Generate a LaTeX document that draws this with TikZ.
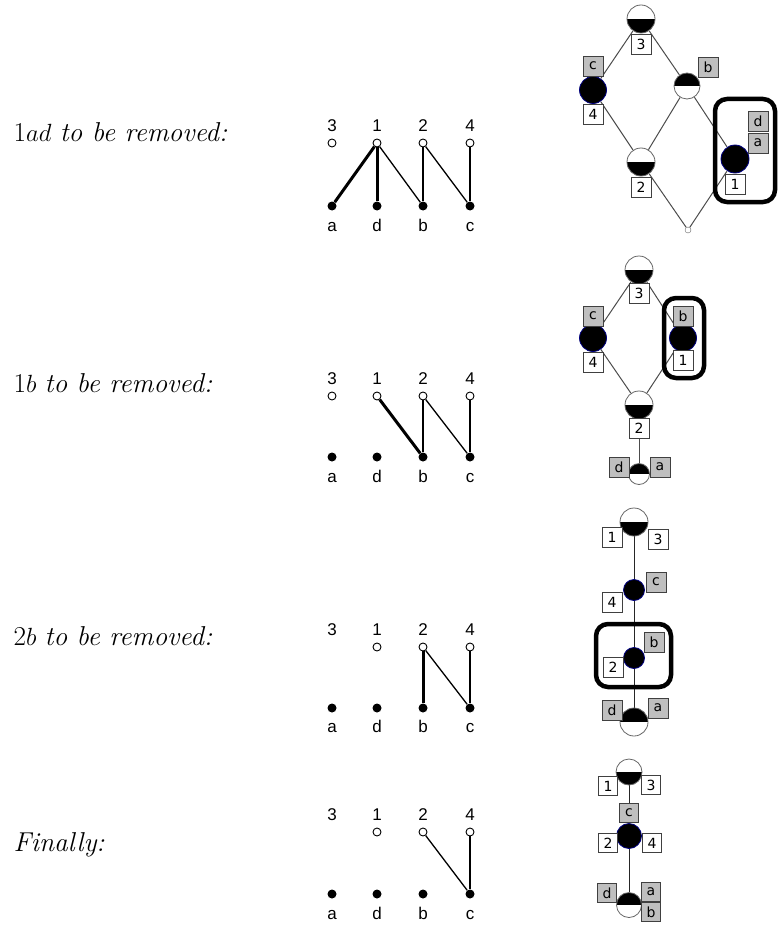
\documentclass[tikz,border=0pt]{standalone}
\usepackage{fontspec}
\newfontfamily\graphfont{Liberation Sans}
\newfontfamily\latfont{DejaVu Sans}
\usetikzlibrary{backgrounds}
\tikzset{
  free/.style={circle,draw,fill=white,inner sep=0pt,minimum size=8pt,line width=0.9pt},
  bound/.style={circle,fill=black,inner sep=0pt,minimum size=9pt},
  lab/.style={anchor=base,font=\graphfont\fontsize{17}{17}\selectfont},
  thinedge/.style={line width=1.3pt},
  thickedge/.style={line width=3pt},
  upper/.style={circle,draw=black!60,fill=white,line width=0.8pt,inner sep=0pt,
    path picture={\fill[black] (path picture bounding box.north west) rectangle (path picture bounding box.east);}},
  lower/.style={circle,draw=black!60,fill=white,line width=0.8pt,inner sep=0pt,
    path picture={\fill[black] (path picture bounding box.west) rectangle (path picture bounding box.south east);}},
  full/.style={circle,fill=black,draw=blue!50!black,line width=0.8pt,inner sep=0pt},
  obj/.style={draw=black!75,fill=white,line width=0.8pt,minimum size=20pt,inner sep=0pt,
    font=\latfont\fontsize{14}{14}\selectfont},
  attr/.style={obj,fill=black!25},
  link/.style={draw=black!70,line width=1pt},
  pick/.style={line width=4.5pt,rounded corners=12pt},
  caption/.style={anchor=base west,font=\fontsize{27.3}{32}\selectfont}
}
\begin{document}
\begin{tikzpicture}[x=1pt,y=-1pt]
  \useasboundingbox (0,0) rectangle (780,931);
  % captions
  \node[caption] (tA) at (10,142) {1$ad$ \textit{to be removed:}};
  \node[caption] (tB) at (10,392) {1$b$ \textit{to be removed:}};
  \node[caption] (tC) at (10,645) {2$b$ \textit{to be removed:}};
  \node[caption] (tD) at (10,851) {\textit{Finally:}};

  % bipartite graphs
  \draw
    (332,143) node[free] (A3){} (377,143) node[free] (A1){}
    (423,143) node[free] (A2){} (470,143) node[free] (A4){}
    (332,206) node[bound] (Aa){} (377,206) node[bound] (Ad){}
    (423,206) node[bound] (Ab){} (470,206) node[bound] (Ac){};
  \draw
    (332,396) node[free] (B3){} (377,396) node[free] (B1){}
    (423,396) node[free] (B2){} (470,396) node[free] (B4){}
    (332,457) node[bound] (Ba){} (377,457) node[bound] (Bd){}
    (423,457) node[bound] (Bb){} (470,457) node[bound] (Bc){};
  \draw
    (377,647) node[free] (C1){}
    (423,647) node[free] (C2){} (470,647) node[free] (C4){}
    (332,708) node[bound] (Ca){} (377,708) node[bound] (Cd){}
    (423,708) node[bound] (Cb){} (470,708) node[bound] (Cc){};
  \draw
    (377,832) node[free] (D1){}
    (423,832) node[free] (D2){} (470,832) node[free] (D4){}
    (332,894) node[bound] (Da){} (377,894) node[bound] (Dd){}
    (423,894) node[bound] (Db){} (470,894) node[bound] (Dc){};
  \begin{scope}[lab]
    \node[lab] (A3l) at (332,131.5) {3}; \node[lab] (A1l) at (377,131.5) {1};
    \node[lab] (A2l) at (423,131.5) {2}; \node[lab] (A4l) at (470,131.5) {4};
    \node[lab] (Aal) at (332,231.5) {a}; \node[lab] (Adl) at (377,231.5) {d};
    \node[lab] (Abl) at (423,231.5) {b}; \node[lab] (Acl) at (470,231.5) {c};
    \node[lab] (B3l) at (332,384) {3}; \node[lab] (B1l) at (377,384) {1};
    \node[lab] (B2l) at (423,384) {2}; \node[lab] (B4l) at (470,384) {4};
    \node[lab] (Bal) at (332,482.5) {a}; \node[lab] (Bdl) at (377,482.5) {d};
    \node[lab] (Bbl) at (423,482.5) {b}; \node[lab] (Bcl) at (470,482.5) {c};
    \node[lab] (C3l) at (332,635.5) {3}; \node[lab] (C1l) at (377,635.5) {1};
    \node[lab] (C2l) at (423,635.5) {2}; \node[lab] (C4l) at (470,635.5) {4};
    \node[lab] (Cal) at (332,732) {a}; \node[lab] (Cdl) at (377,732) {d};
    \node[lab] (Cbl) at (423,732) {b}; \node[lab] (Ccl) at (470,732) {c};
    \node[lab] (D3l) at (332,820) {3}; \node[lab] (D1l) at (377,820) {1};
    \node[lab] (D2l) at (423,820) {2}; \node[lab] (D4l) at (470,820) {4};
    \node[lab] (Dal) at (332,919) {a}; \node[lab] (Ddl) at (377,919) {d};
    \node[lab] (Dbl) at (423,919) {b}; \node[lab] (Dcl) at (470,919) {c};
  \end{scope}
  \begin{scope}[-]
    \draw[thickedge] (A1) to (Aa);
    \draw[thickedge] (A1) to (Ad);
    \draw[thinedge] (A1) to (Ab);
    \draw[thinedge] (A2) to (Ab);
    \draw[thinedge] (A2) to (Ac);
    \draw[thinedge] (A4) to (Ac);
    \draw[thickedge] (B1) to (Bb);
    \draw[thinedge] (B2) to (Bb);
    \draw[thinedge] (B2) to (Bc);
    \draw[thinedge] (B4) to (Bc);
    \draw[thickedge] (C2) to (Cb);
    \draw[thinedge] (C2) to (Cc);
    \draw[thinedge] (C4) to (Cc);
    \draw[thinedge] (D2) to (Dc);
    \draw[thinedge] (D4) to (Dc);
  \end{scope}

  % lattice 1
  \draw
    (641,19) node[lower,minimum size=28pt] (P3){}
    (593,90) node[full,minimum size=27pt] (P4){}
    (687,86) node[upper,minimum size=26pt] (Pb){}
    (641,162) node[lower,minimum size=28pt] (P2){}
    (735,159) node[full,minimum size=28pt] (P1){}
    (688,230) node[circle,draw=black!60,fill=white,inner sep=0pt,minimum size=6pt] (P0){};
  \node[obj] (P3l) at (641,44) {3};
  \node[attr] (Pcl) at (593,66) {c};
  \node[obj] (P4l) at (593,114) {4};
  \node[attr] (Pbl) at (708,67) {b};
  \node[obj] (P2l) at (641,187) {2};
  \node[attr] (Pdl) at (758,121) {d};
  \node[attr] (Pal) at (758,143) {a};
  \node[obj] (P1l) at (735,184) {1};
  \draw[pick] (715,99) rectangle (775,202);
  \begin{scope}[on background layer]
    \draw[link] (P3) to (P4);
    \draw[link] (P3) to (Pb);
    \draw[link] (P4) to (P2);
    \draw[link] (Pb) to (P2);
    \draw[link] (Pb) to (P1);
    \draw[link] (P2) to (P0);
    \draw[link] (P1) to (P0);
  \end{scope}

  % lattice 2
  \draw
    (639,270) node[lower,minimum size=28pt] (Q3){}
    (593,338) node[full,minimum size=27pt] (Q4){}
    (683,338) node[full,minimum size=27pt] (Q1){}
    (639,405) node[lower,minimum size=28pt] (Q2){}
    (639,474) node[upper,minimum size=21pt] (Q0){};
  \node[obj] (Q3l) at (639,293) {3};
  \node[attr] (Qcl) at (593,316) {c};
  \node[obj] (Q4l) at (593,362) {4};
  \node[attr] (Qbl) at (683,316) {b};
  \node[obj] (Q1l) at (683,360) {1};
  \node[obj] (Q2l) at (639,428) {2};
  \node[attr] (Qdl) at (619,467) {d};
  \node[attr] (Qal) at (660,467) {a};
  \draw[pick] (664,298) rectangle (704,378);
  \begin{scope}[on background layer]
    \draw[link] (Q3) to (Q4);
    \draw[link] (Q3) to (Q1);
    \draw[link] (Q4) to (Q2);
    \draw[link] (Q1) to (Q2);
    \draw[link] (Q2) to (Q0);
  \end{scope}

  % lattice 3
  \draw
    (634,522) node[lower,minimum size=28pt] (R3){}
    (634,590) node[full,minimum size=21pt] (R4){}
    (634,658) node[full,minimum size=21pt] (R2){}
    (634,722) node[upper,minimum size=28pt] (R0){};
  \node[obj] (R1l) at (612,537) {1};
  \node[obj] (R3l) at (658,539) {3};
  \node[attr] (Rcl) at (656,582) {c};
  \node[obj] (R4l) at (612,602) {4};
  \node[attr] (Rbl) at (654,642) {b};
  \node[obj] (R2l) at (613,667) {2};
  \node[attr] (Rdl) at (612,710) {d};
  \node[attr] (Ral) at (658,708) {a};
  \draw[pick] (596,624) rectangle (671,687);
  \begin{scope}[on background layer]
    \draw[link,black!85] (R3) to (R4);
    \draw[link,black!85] (R4) to (R2);
    \draw[link,black!85] (R2) to (R0);
  \end{scope}

  % lattice 4
  \draw
    (629,772) node[lower,minimum size=26pt] (S3){}
    (629,836) node[full,minimum size=25pt] (S4){}
    (629,905) node[upper,minimum size=25pt] (S0){};
  \node[obj,minimum size=19pt] (S1l) at (608,786) {1};
  \node[obj,minimum size=19pt] (S3l) at (651,785) {3};
  \node[attr,minimum size=19pt] (Scl) at (629,813) {c};
  \node[obj,minimum size=19pt] (S2l) at (608,843) {2};
  \node[obj,minimum size=19pt] (S4l) at (652,843) {4};
  \node[attr,minimum size=19pt] (Sdl) at (607,893) {d};
  \node[attr,minimum size=19pt] (Sal) at (651,892) {a};
  \node[attr,minimum size=19pt] (Sbl) at (651,912) {b};
  \begin{scope}[on background layer]
    \draw[link,black!85] (S3) to (S4);
    \draw[link,black!85] (S4) to (S0);
  \end{scope}
\end{tikzpicture}
\end{document}
